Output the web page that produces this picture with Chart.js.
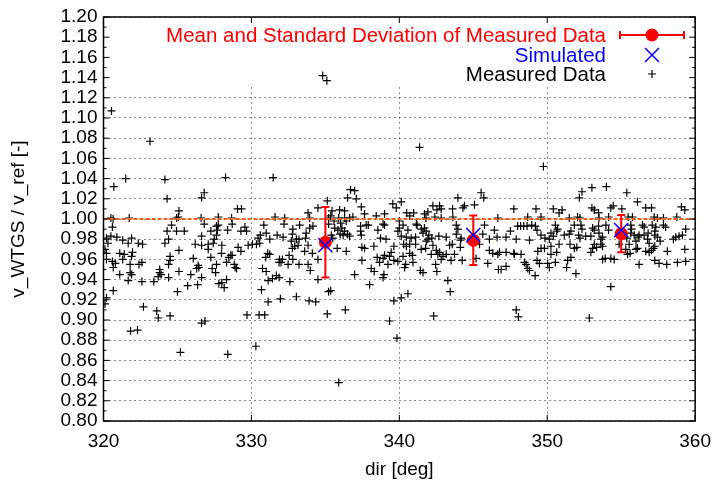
<!DOCTYPE html>
<html>
<head>
<meta charset="utf-8">
<script src="https://cdn.jsdelivr.net/npm/chart.js@4/dist/chart.umd.min.js"></script>
<style>
  body { margin: 0; background: #fff; }
  canvas { display: block; }
</style>
</head>
<body>
<canvas id="grafico" width="720" height="485"></canvas>
<script>
// medidos: [dir, v_WTGS/v_ref], agrupados por sector
const medidos320 = [
  [320.54,1.107],[323.14,1.077],
  [321.5,1.040],[324.15,1.039],[320.7,1.032],[324.3,1.020],
  [320.5,1.001],[320.65,1.000],[321.74,1.001],[320.6,0.992],[324.6,0.994],[324.3,0.988],
  [320.5,0.983],[320.2,0.981],[320.9,0.982],[321.9,0.981],[321.3,0.979],[321.67,0.976],
  [322.35,0.976],[322.64,0.975],[324.15,0.976],[324.4,0.980],[320.3,0.976],
  [320.1,0.970],[320.2,0.966],[321.1,0.966],[321.4,0.965],[321.96,0.967],[321.9,0.963],[324.5,0.963],
  [320.2,0.960],[320.6,0.958],[320.8,0.956],[320.66,0.952],[321.3,0.960],
  [321.8,0.955],[322.4,0.955],[322.6,0.957],[324.5,0.959],[324.4,0.955],
  [323.8,0.950],[323.8,0.947],[323.9,0.945],[323.7,0.943],[324.4,0.942],
  [321.1,0.945],[321.8,0.947],[321.9,0.945],[321.67,0.939],[322.6,0.938],[323.4,0.938],
  [320.66,0.929],[320.2,0.922],[320.1,0.916],[322.7,0.913],[323.6,0.909],[323.7,0.902],[324.5,0.904],
  [321.83,0.889],[322.3,0.890],
  [328.25,1.041],[326.81,1.026],[326.63,1.021],[325.1,1.008],[329.06,1.010],[329.33,1.010],
  [325.06,1.002],[324.94,1.001],[326.6,1.001],[327.76,1.002],[328.66,1.001],
  [326.81,0.995],[328.7,0.995],[327.64,0.993],[327.76,0.994],[327.7,0.989],
  [324.94,0.988],[325.46,0.988],[327.26,0.988],[328.39,0.989],[329.56,0.992],[329.29,0.988],[329.67,0.988],
  [327.64,0.984],[326.63,0.983],[327.49,0.980],[327.42,0.976],[326.2,0.975],[326.63,0.974],
  [327.08,0.975],[327.08,0.970],[328.0,0.974],[329.1,0.972],[329.29,0.968],[329.78,0.974],
  [325.1,0.969],[327.98,0.966],[327.26,0.962],[328.61,0.964],[328.47,0.962],[328.7,0.964],
  [326.07,0.961],[328.32,0.957],[327.64,0.955],[326.4,0.954],[326.3,0.951],[326.45,0.952],
  [328.84,0.955],[329.0,0.951],[328.9,0.952],[327.35,0.951],[327.58,0.947],[325.1,0.948],
  [325.9,0.945],[326.63,0.942],[328.32,0.940],[328.0,0.937],[327.8,0.936],[328.16,0.932],
  [325.69,0.934],[326.36,0.935],[325.0,0.928],[326.63,0.897],[326.86,0.899],[329.7,0.905],
  [325.2,0.868],[328.4,0.866]
];

const medidos330 = [
  [331.47,1.041],[334.5,1.011],[333.83,1.006],[333.94,1.001],[331.6,1.002],[332.25,1.001],
  [330.84,0.994],[332.2,0.995],[333.26,0.994],[334.16,0.993],[333.94,0.991],[332.8,0.990],
  [331.0,0.986],[330.6,0.984],[330.45,0.981],[331.74,0.984],[332.14,0.982],[332.77,0.985],
  [333.7,0.986],[333.67,0.981],[333.04,0.980],[333.22,0.980],[331.24,0.980],
  [330.07,0.975],[330.34,0.975],[330.56,0.976],[332.7,0.978],[332.93,0.973],[332.77,0.971],
  [333.83,0.974],[333.6,0.968],[334.12,0.966],[333.15,0.974],[331.1,0.966],[331.24,0.965],
  [330.97,0.962],[332.55,0.964],[331.9,0.960],[332.0,0.957],[332.1,0.960],[331.87,0.957],
  [332.8,0.960],[332.48,0.955],[333.22,0.955],[333.83,0.955],[334.5,0.960],
  [330.75,0.951],[331.0,0.948],[331.69,0.944],[331.87,0.942],[333.98,0.949],
  [331.13,0.939],[331.42,0.941],[332.6,0.938],[334.5,0.940],[330.68,0.930],
  [333.04,0.923],[331.96,0.921],[331.13,0.918],[333.9,0.919],[334.35,0.918],
  [330.52,0.905],[330.9,0.905],[330.3,0.874],
  [334.82,1.142],[335.1,1.137],
  [336.7,1.029],[336.98,1.028],[336.5,1.021],[337.09,1.020],[335.13,1.018],[339.56,1.015],
  [337.43,1.012],[339.79,1.011],[335.96,1.009],[336.3,1.008],[335.45,1.008],
  [335.36,1.003],[335.22,1.001],[335.9,1.001],[336.3,1.001],[336.64,1.001],[336.86,1.002],
  [337.65,1.005],[338.44,1.003],[339.0,1.005],[335.58,0.998],[336.03,0.996],[336.41,0.998],
  [335.22,0.995],[337.76,0.994],[337.9,0.994],[337.38,0.993],[338.9,0.995],[339.0,0.994],[340.0,0.998],
  [335.63,0.991],[335.85,0.989],[336.12,0.991],[336.3,0.988],[336.5,0.985],[336.64,0.983],
  [336.0,0.985],[336.2,0.984],[335.4,0.984],[335.5,0.981],[337.38,0.988],[337.43,0.984],
  [338.55,0.989],[338.73,0.981],[339.1,0.980],[339.9,0.988],
  [335.13,0.975],[335.8,0.971],[336.41,0.968],[337.47,0.972],[337.65,0.971],[338.28,0.973],[339.63,0.973],
  [338.5,0.962],[338.9,0.961],[338.66,0.957],[339.0,0.964],[339.34,0.963],[339.45,0.967],[339.63,0.959],
  [337.47,0.959],[339.23,0.955],[339.9,0.958],[338.1,0.951],[338.3,0.948],[336.98,0.945],
  [338.96,0.945],[338.9,0.942],[337.99,0.935],[335.22,0.928],[335.36,0.929],[339.63,0.919],
  [336.35,0.910],[335.13,0.906],[339.34,0.899],[335.9,0.838],[339.84,0.882]
];

const medidos340 = [
  [341.37,1.071],[343.96,1.021],[340.13,1.017],[342.27,1.013],[342.72,1.013],[342.54,1.009],[342.83,1.010],
  [343.6,1.010],[344.3,1.011],[344.4,1.013],[340.5,1.006],[340.97,1.006],[340.7,1.003],
  [341.7,1.005],[341.93,1.007],[341.8,1.001],[342.4,1.002],[342.83,1.001],[343.62,1.002],
  [341.15,0.995],[341.2,0.994],[340.25,0.994],[343.85,0.994],[343.96,0.990],
  [340.0,0.991],[340.58,0.989],[341.48,0.990],[341.7,0.991],[341.6,0.986],[341.82,0.988],
  [340.13,0.983],[340.47,0.982],[340.8,0.981],[341.1,0.982],[341.1,0.975],
  [342.0,0.984],[341.93,0.980],[342.2,0.981],[342.67,0.983],[343.17,0.982],[343.85,0.985],
  [344.18,0.981],[344.14,0.979],[343.58,0.975],[343.4,0.974],
  [340.29,0.975],[340.47,0.973],[340.7,0.975],[341.82,0.978],[341.78,0.971],[341.48,0.970],
  [342.27,0.974],[342.5,0.969],[342.72,0.967],[342.6,0.965],[344.12,0.972],[343.73,0.965],
  [343.17,0.965],[342.95,0.963],[342.83,0.960],[342.16,0.965],[340.7,0.966],[340.88,0.964],
  [340.25,0.963],[340.43,0.955],[340.36,0.952],[340.92,0.957],[342.45,0.955],[342.54,0.948],
  [344.25,0.959],[343.5,0.959],[341.42,0.949],[341.6,0.947],[343.28,0.939],[343.44,0.928],
  [340.58,0.926],[340.13,0.922],[342.32,0.904],
  [349.74,1.052],[345.53,1.026],[345.71,1.021],[345.08,1.014],[347.74,1.010],[349.24,1.010],
  [349.58,1.002],[346.66,1.001],[348.68,1.002],[345.76,0.994],[347.51,0.988],[346.43,0.989],
  [348.0,0.993],[348.2,0.993],[348.41,0.993],[348.64,0.993],[348.95,0.994],[349.2,0.993],[349.31,0.989],
  [345.64,0.985],[346.61,0.982],[347.22,0.982],[347.9,0.980],[348.8,0.979],[349.58,0.984],[349.85,0.981],
  [346.09,0.980],[345.42,0.975],[346.09,0.969],[346.32,0.966],[346.66,0.965],[346.77,0.967],
  [347.22,0.967],[347.74,0.966],[347.78,0.965],[348.23,0.965],[349.36,0.968],[349.58,0.971],[349.81,0.971],
  [349.31,0.959],[349.47,0.956],[348.46,0.957],[348.57,0.955],[348.68,0.951],[348.8,0.949],[349.18,0.944],
  [345.98,0.956],[346.7,0.950],[346.88,0.950],[347.22,0.953],[345.19,0.961],[347.9,0.910],[348.05,0.903],
  [350.03,0.956]
];

const medidos350 = [
  [353.02,1.031],[354.0,1.032],[352.35,1.027],[352.17,1.021],[350.41,1.010],[351.0,1.009],[350.8,1.006],
  [353.02,1.011],[353.18,1.009],[353.47,1.006],[354.3,1.011],[354.46,1.013],[355.05,1.010],
  [351.49,1.001],[352.05,1.002],[352.21,1.001],[353.5,1.001],[354.15,1.002],
  [350.55,0.994],[350.7,0.990],[350.64,0.988],[351.83,0.994],[352.28,0.994],[352.35,0.990],
  [353.07,0.991],[353.18,0.989],[353.47,0.993],[353.97,0.994],[354.15,0.989],
  [350.25,0.986],[350.41,0.983],[351.15,0.984],[351.49,0.985],[351.6,0.988],[352.12,0.984],[352.21,0.981],
  [352.6,0.983],[352.95,0.983],[353.5,0.986],[353.74,0.982],[353.63,0.980],[350.14,0.980],[350.8,0.975],
  [351.54,0.975],[351.83,0.971],[352.0,0.972],[353.18,0.975],[353.34,0.972],[353.07,0.971],[352.95,0.967],
  [353.63,0.975],[353.74,0.973],[354.86,0.975],[350.25,0.973],[350.25,0.965],[350.64,0.967],
  [351.6,0.962],[351.38,0.959],[351.31,0.952],[350.55,0.957],[353.74,0.960],[353.92,0.961],[354.3,0.961],[354.53,0.960],
  [350.14,0.952],[351.94,0.946],[354.3,0.933],[352.84,0.902],
  [355.38,1.026],[356.1,1.017],[356.66,1.011],[357.05,1.011],[359.07,1.012],[359.3,1.009],
  [355.47,1.002],[355.76,1.002],[357.23,1.002],[357.45,1.001],[357.86,1.001],[358.76,1.002],
  [355.65,0.994],[355.7,0.990],[356.44,0.994],[356.55,0.992],[357.1,0.994],[357.34,0.992],[357.27,0.988],
  [357.86,0.994],[358.0,0.992],[359.36,0.990],[355.65,0.986],[355.88,0.984],[356.21,0.984],[356.15,0.982],
  [356.55,0.984],[356.82,0.986],[357.27,0.984],[357.45,0.982],[358.69,0.982],[358.91,0.983],[359.14,0.984],
  [358.53,0.980],[355.38,0.981],[355.54,0.975],[356.0,0.978],[356.78,0.980],[356.89,0.976],[357.63,0.978],
  [356.0,0.970],[356.1,0.971],[357.27,0.973],[357.18,0.971],[357.05,0.969],[356.89,0.967],[356.66,0.968],
  [358.12,0.968],[359.3,0.970],[355.43,0.965],[355.6,0.966],[356.21,0.955],[357.27,0.959],[357.56,0.956],
  [358.08,0.955],[358.8,0.957],[359.36,0.958],[355.31,0.970]
];

// media y desviacion estandar por sector
const sectoresDir = [335, 345, 355];
const mediaMedida = [0.977, 0.979, 0.9855];
const desvMedida = [0.035, 0.0245, 0.0185];
const simulado = [0.974, 0.984, 0.989];

// linea de referencia v_WTGS = v_ref
const refDir = [320, 360];
const refValor = [1.0, 1.0];

const etiquetasLeyenda = ['Mean and Standard Deviation of Measured Data', 'Simulated', 'Measured Data'];
const limiteCajaLeyenda = 1.132;

const fuente = '"Liberation Sans", Arial, sans-serif';
const rojo = '#ff0000', azul = '#0000ff', naranja = '#f25c19';

const puntosMedidos = [].concat(medidos320, medidos330, medidos340, medidos350)
  .map(p => ({x: p[0], y: p[1]}));
const puntosMedia = sectoresDir.map((d, i) => ({x: d, y: mediaMedida[i]}));
const puntosSim = sectoresDir.map((d, i) => ({x: d, y: simulado[i]}));
const puntosRef = refDir.map((d, i) => ({x: d, y: refValor[i]}));

// caja opaca de la leyenda (tapa la rejilla)
const cajaLeyenda = {
  id: 'cajaLeyenda',
  beforeDatasetsDraw(chart) {
    const {ctx, chartArea: a, scales: {y}} = chart;
    ctx.save();
    ctx.fillStyle = '#fff';
    ctx.fillRect(a.left + 1, a.top + 1, a.right - a.left - 2, y.getPixelForValue(limiteCajaLeyenda) - a.top);
    ctx.restore();
  }
};

// barras de error sobre los puntos medidos
const barrasError = {
  id: 'barrasError',
  afterDatasetDraw(chart, args) {
    if (args.index !== 1) return;
    const {ctx, scales: {x, y}} = chart;
    ctx.save();
    ctx.strokeStyle = rojo;
    ctx.lineWidth = 2;
    sectoresDir.forEach((d, i) => {
      const px = x.getPixelForValue(d);
      const y1 = y.getPixelForValue(mediaMedida[i] + desvMedida[i]);
      const y2 = y.getPixelForValue(mediaMedida[i] - desvMedida[i]);
      ctx.beginPath();
      ctx.moveTo(px, y1); ctx.lineTo(px, y2);
      ctx.moveTo(px - 4, y1); ctx.lineTo(px + 4, y1);
      ctx.moveTo(px - 4, y2); ctx.lineTo(px + 4, y2);
      ctx.stroke();
    });
    ctx.restore();
  }
};

// marco, marcas interiores y leyenda estilo gnuplot
const marcoYLeyenda = {
  id: 'marcoYLeyenda',
  afterDraw(chart) {
    const {ctx, chartArea: a, scales: {x, y}} = chart;
    ctx.save();
    ctx.strokeStyle = '#000';
    ctx.lineWidth = 1;
    ctx.beginPath();
    const yt = y.ticks.map(t => y.getPixelForValue(t.value));
    yt.forEach((py, i) => {
      ctx.moveTo(a.left, py); ctx.lineTo(a.left + 6, py);
      ctx.moveTo(a.right, py); ctx.lineTo(a.right - 6, py);
      if (i > 0) {
        const pm = (py + yt[i - 1]) / 2;
        ctx.moveTo(a.left, pm); ctx.lineTo(a.left + 3, pm);
        ctx.moveTo(a.right, pm); ctx.lineTo(a.right - 3, pm);
      }
    });
    x.ticks.forEach(t => {
      const px = x.getPixelForValue(t.value);
      ctx.moveTo(px, a.bottom); ctx.lineTo(px, a.bottom - 6);
      ctx.moveTo(px, a.top); ctx.lineTo(px, a.top + 6);
    });
    ctx.stroke();
    ctx.lineWidth = 1.5;
    ctx.strokeRect(a.left, a.top, a.right - a.left, a.bottom - a.top);

    // leyenda
    const xt = 606, xm = 652, filas = [35, 55, 74];
    ctx.font = '20.5px ' + fuente;
    ctx.textAlign = 'right';
    ctx.textBaseline = 'middle';
    [rojo, azul, '#000'].forEach((c, i) => {
      ctx.fillStyle = c;
      ctx.fillText(etiquetasLeyenda[i], xt, filas[i] + 1);
    });
    ctx.strokeStyle = rojo;
    ctx.lineWidth = 2;
    ctx.beginPath();
    ctx.moveTo(620, filas[0]); ctx.lineTo(684, filas[0]);
    ctx.moveTo(620, filas[0] - 4); ctx.lineTo(620, filas[0] + 4);
    ctx.moveTo(684, filas[0] - 4); ctx.lineTo(684, filas[0] + 4);
    ctx.stroke();
    ctx.fillStyle = rojo;
    ctx.beginPath(); ctx.arc(xm, filas[0], 6.5, 0, Math.PI * 2); ctx.fill();
    ctx.strokeStyle = azul;
    ctx.lineWidth = 1.5;
    ctx.beginPath();
    ctx.moveTo(xm - 7, filas[1] - 7); ctx.lineTo(xm + 7, filas[1] + 7);
    ctx.moveTo(xm - 7, filas[1] + 7); ctx.lineTo(xm + 7, filas[1] - 7);
    ctx.stroke();
    ctx.strokeStyle = '#000';
    ctx.lineWidth = 1.2;
    ctx.beginPath();
    ctx.moveTo(xm - 4, filas[2]); ctx.lineTo(xm + 4, filas[2]);
    ctx.moveTo(xm, filas[2] - 4); ctx.lineTo(xm, filas[2] + 4);
    ctx.stroke();
    ctx.restore();
  }
};

const rejilla = {
  color: 'rgba(0,0,0,0.45)',
  lineWidth: 1,
  drawTicks: false,
  tickLength: 0
};

new Chart(document.getElementById('grafico'), {
  type: 'scatter',
  data: {
    datasets: [
      {
        label: etiquetasLeyenda[1],
        data: puntosSim,
        pointStyle: 'crossRot',
        pointRadius: 10,
        borderColor: azul,
        borderWidth: 1.5,
        order: 0
      },
      {
        label: etiquetasLeyenda[0],
        data: puntosMedia,
        pointStyle: 'circle',
        pointRadius: 6.5,
        backgroundColor: rojo,
        borderColor: rojo,
        borderWidth: 0,
        order: 1
      },
      {
        type: 'line',
        label: 'ref',
        data: puntosRef,
        borderColor: naranja,
        borderWidth: 2,
        borderDash: [4, 2],
        pointRadius: 0,
        fill: false,
        order: 2
      },
      {
        label: etiquetasLeyenda[2],
        data: puntosMedidos,
        pointStyle: 'cross',
        pointRadius: 4,
        borderColor: '#000',
        borderWidth: 1.2,
        order: 3
      }
    ]
  },
  options: {
    responsive: false,
    animation: false,
    devicePixelRatio: 1,
    layout: { padding: { top: 17, right: 24, bottom: 0, left: 0 } },
    plugins: { legend: { display: false }, tooltip: { enabled: false } },
    scales: {
      x: {
        type: 'linear',
        min: 320,
        max: 360,
        ticks: {
          stepSize: 10,
          padding: 9,
          color: '#000',
          font: { family: fuente, size: 19 },
          maxRotation: 0
        },
        grid: rejilla,
        border: { display: false, dash: [2, 3] },
        title: {
          display: true,
          text: 'dir [deg]',
          color: '#000',
          font: { family: fuente, size: 19 },
          padding: { top: 0, bottom: 4 }
        },
        afterFit(scale) { scale.height = 64; }
      },
      y: {
        type: 'linear',
        min: 0.8,
        max: 1.2,
        ticks: {
          stepSize: 0.02,
          autoSkip: false,
          padding: 6,
          color: '#000',
          font: { family: fuente, size: 19, lineHeight: 1 },
          callback: v => v.toFixed(2)
        },
        grid: rejilla,
        border: { display: false, dash: [2, 3] },
        title: {
          display: true,
          text: 'v_WTGS / v_ref [-]',
          color: '#000',
          font: { family: fuente, size: 19 },
          padding: { top: 7, bottom: 0 }
        },
        afterFit(scale) { scale.width = 103.5; }
      }
    }
  },
  plugins: [cajaLeyenda, barrasError, marcoYLeyenda]
});
</script>
</body>
</html>
